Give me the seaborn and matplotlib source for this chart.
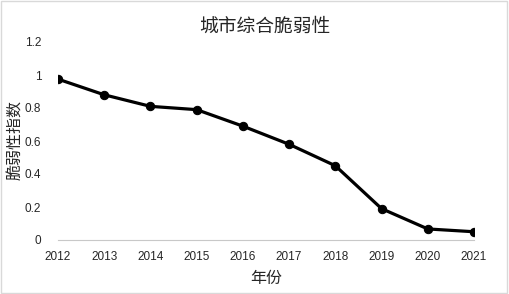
import matplotlib
matplotlib.use("Agg")
import matplotlib.pyplot as plt
import seaborn as sns
import pandas as pd
from matplotlib.patches import Rectangle

years = [2012, 2013, 2014, 2015, 2016, 2017, 2018, 2019, 2020, 2021]
values = [0.975, 0.88, 0.81, 0.79, 0.69, 0.58, 0.45, 0.19, 0.067, 0.05]
yticks = [0, 0.2, 0.4, 0.6, 0.8, 1, 1.2]
ytick_labels = ["0", "0.2", "0.4", "0.6", "0.8", "1", "1.2"]

sns.set_style("white")
plt.rcParams['font.family'] = ['Liberation Sans', 'Noto Sans CJK SC', 'DejaVu Sans']

df = pd.DataFrame({"year": years, "value": values})

fig = plt.figure(figsize=(5.09, 2.94), dpi=100)
ax = fig.add_axes([58/509, 54/294, (474-58)/509, (240-42)/294])
sns.lineplot(data=df, x="year", y="value", ax=ax, color="black", linewidth=2.3,
             marker="o", markersize=6, markeredgecolor="black", markerfacecolor="black")

ax.set_xlim(2012, 2021)
ax.set_ylim(0, 1.2)
ax.set_xticks(years)
ax.set_xticklabels([str(y) for y in years], fontsize=8.5)
ax.set_yticks(yticks)
ax.set_yticklabels(ytick_labels, fontsize=8.5)
ax.tick_params(axis='x', direction='in', length=4, color='#c8c8c8', width=0.8, pad=8)
ax.tick_params(axis='y', length=0, pad=12)
for s in ['top', 'right', 'left']:
    ax.spines[s].set_visible(False)
ax.spines['bottom'].set_color('#c8c8c8')
ax.spines['bottom'].set_linewidth(0.8)

ax.set_xlabel("年份", fontsize=11.5, family=['Noto Sans CJK SC'], labelpad=5)
ax.set_ylabel("")
fig.text(16/509, 1 - 140/294, "脆弱性指数", rotation=90, ha='center', va='center',
         fontsize=11.5, family=['Noto Sans CJK SC'])
fig.text(265/509, 1 - 26/294, "城市综合脆弱性", ha='center', va='center', fontsize=13.5,
         family=['Noto Sans CJK SC'])

fig.patches.append(Rectangle((0.002, 0.003), 0.994, 0.993, transform=fig.transFigure,
                             fill=False, edgecolor='#d9d9d9', linewidth=1))

fig.savefig("out.png", dpi=100)
